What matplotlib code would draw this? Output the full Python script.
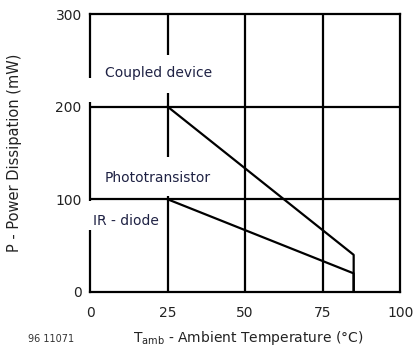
import matplotlib.pyplot as plt
from matplotlib.patches import Rectangle

# derating curves
temp_photo = [25, 85, 85]
power_photo = [200, 40, 0]
temp_ir = [25, 85, 85]
power_ir = [100, 20, 0]

x_ticks = [0, 25, 50, 75, 100]
y_ticks = [0, 100, 200, 300]

fig = plt.figure(figsize=(4.13, 3.5), dpi=100)
ax = fig.add_axes([0.218, 0.166, 0.751, 0.794])

ax.set_xlim(0, 100)
ax.set_ylim(0, 300)
ax.set_xticks(x_ticks)
ax.set_yticks(y_ticks)
ax.tick_params(length=0, labelsize=10, labelcolor='#222222')
ax.tick_params(axis='x', pad=10)
ax.tick_params(axis='y', pad=6)
for s in ax.spines.values():
    s.set_linewidth(1.6)
    s.set_zorder(2)

for xv in x_ticks[1:-1]:
    ax.axvline(xv, color='black', lw=1.6, zorder=1)
for yv in y_ticks[1:-1]:
    ax.axhline(yv, color='black', lw=1.6, zorder=1)

ax.plot(temp_photo, power_photo, color='black', lw=1.6, zorder=2)
ax.plot(temp_ir, power_ir, color='black', lw=1.6, zorder=2)

# gaps in the grid behind the labels
for x0, y0, w, h in [(-1.5, 205, 3, 26), (23.5, 215, 3, 41),
                     (23.5, 103, 3, 43), (-1.5, 67, 3, 31)]:
    ax.add_patch(Rectangle((x0, y0), w, h, facecolor='white', edgecolor='none',
                           zorder=3, clip_on=False))

txt_color = '#1f2244'
ax.text(4.8, 236, 'Coupled device', fontsize=10, color=txt_color, va='center', zorder=4)
ax.text(4.8, 123, 'Phototransistor', fontsize=10, color=txt_color, va='center', zorder=4)
ax.text(1.0, 77, 'IR - diode', fontsize=10, color=txt_color, va='center', zorder=4)

ax.set_xlabel(r'T$_{\mathrm{amb}}$ - Ambient Temperature (°C)', fontsize=10, color='#222222')
ax.xaxis.set_label_coords(0.51, -0.135)
ax.set_ylabel('P - Power Dissipation (mW)', fontsize=10.5, color='#222222')
ax.yaxis.set_label_coords(-0.22, 0.5)
fig.text(0.068, 0.022, '96 11071', fontsize=7, color='#333333')

fig.savefig('out.png', dpi=100)
